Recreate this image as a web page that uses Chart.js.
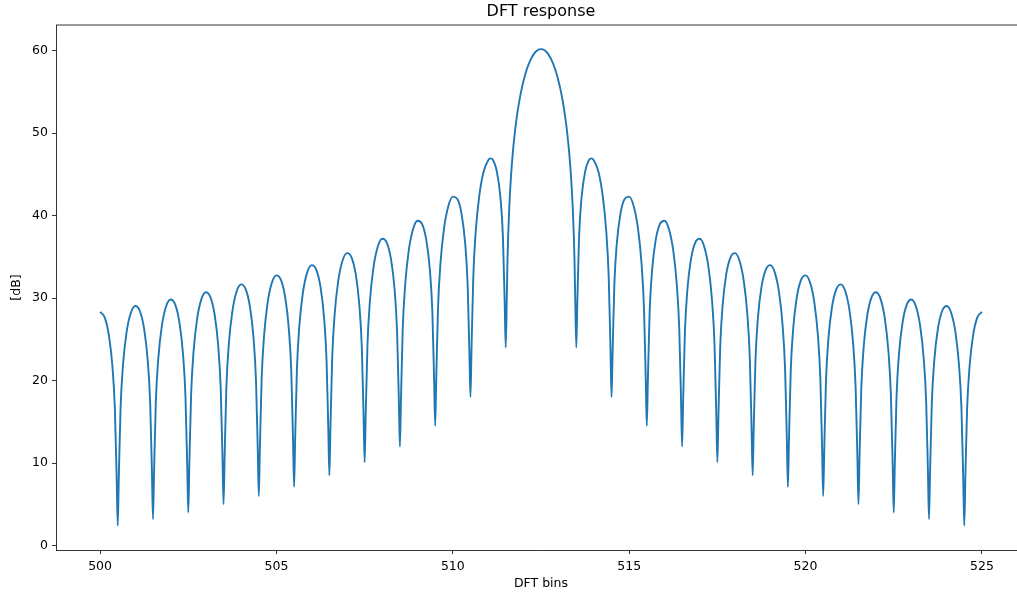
<!DOCTYPE html>
<html>
<head>
<meta charset="utf-8">
<title>DFT response</title>
<script src="https://cdn.jsdelivr.net/npm/chart.js@4.4.1/dist/chart.umd.min.js"></script>
<style>
  html, body { margin: 0; padding: 0; background: #fff; overflow: hidden; width: 1017px; height: 595px; }
  canvas { display: block; }
</style>
</head>
<body>
<canvas id="dft" width="1026" height="595"></canvas>
<script>
// DFT bin positions (x) and magnitude in dB (y), one lobe per line
const bins = [
    500, 500.13, 500.25, 500.35, 500.42, 500.47, 500.5,
    500.53, 500.58, 500.65, 500.75, 500.87, 501, 501.13, 501.25, 501.35, 501.42, 501.47, 501.5,
    501.53, 501.58, 501.65, 501.75, 501.87, 502, 502.13, 502.25, 502.35, 502.42, 502.47, 502.5,
    502.53, 502.58, 502.65, 502.75, 502.87, 503, 503.13, 503.25, 503.35, 503.42, 503.47, 503.5,
    503.53, 503.58, 503.65, 503.75, 503.87, 504, 504.13, 504.25, 504.35, 504.42, 504.47, 504.5,
    504.53, 504.58, 504.65, 504.75, 504.87, 505, 505.13, 505.25, 505.35, 505.42, 505.47, 505.5,
    505.53, 505.58, 505.65, 505.75, 505.87, 506, 506.13, 506.25, 506.35, 506.42, 506.47, 506.5,
    506.53, 506.58, 506.65, 506.75, 506.87, 507, 507.13, 507.25, 507.35, 507.42, 507.47, 507.5,
    507.53, 507.58, 507.65, 507.75, 507.87, 508, 508.13, 508.25, 508.35, 508.42, 508.47, 508.5,
    508.53, 508.58, 508.65, 508.75, 508.87, 509, 509.13, 509.25, 509.35, 509.42, 509.47, 509.5,
    509.53, 509.58, 509.65, 509.75, 509.87, 510, 510.13, 510.25, 510.35, 510.42, 510.47, 510.5,
    510.53, 510.58, 510.65, 510.75, 510.87, 511, 511.07, 511.13, 511.25, 511.35, 511.42, 511.47, 511.5,
    511.53, 511.55, 511.57, 511.6, 511.65, 511.7, 511.75, 511.8, 511.85, 511.9, 511.95, 512, 512.1, 512.2, 512.3, 512.4, 512.5,
    512.6, 512.7, 512.8, 512.9, 513, 513.05, 513.1, 513.15, 513.2, 513.25, 513.3, 513.35, 513.4, 513.43, 513.45, 513.47, 513.5,
    513.53, 513.58, 513.65, 513.75, 513.87, 513.93, 514, 514.13, 514.25, 514.35, 514.42, 514.47, 514.5,
    514.53, 514.58, 514.65, 514.75, 514.87, 515, 515.13, 515.25, 515.35, 515.42, 515.47, 515.5,
    515.53, 515.58, 515.65, 515.75, 515.87, 516, 516.13, 516.25, 516.35, 516.42, 516.47, 516.5,
    516.53, 516.58, 516.65, 516.75, 516.87, 517, 517.13, 517.25, 517.35, 517.42, 517.47, 517.5,
    517.53, 517.58, 517.65, 517.75, 517.87, 518, 518.13, 518.25, 518.35, 518.42, 518.47, 518.5,
    518.53, 518.58, 518.65, 518.75, 518.87, 519, 519.13, 519.25, 519.35, 519.42, 519.47, 519.5,
    519.53, 519.58, 519.65, 519.75, 519.87, 520, 520.13, 520.25, 520.35, 520.42, 520.47, 520.5,
    520.53, 520.58, 520.65, 520.75, 520.87, 521, 521.13, 521.25, 521.35, 521.42, 521.47, 521.5,
    521.53, 521.58, 521.65, 521.75, 521.87, 522, 522.13, 522.25, 522.35, 522.42, 522.47, 522.5,
    522.53, 522.58, 522.65, 522.75, 522.87, 523, 523.13, 523.25, 523.35, 523.42, 523.47, 523.5,
    523.53, 523.58, 523.65, 523.75, 523.87, 524, 524.13, 524.25, 524.35, 524.42, 524.47, 524.5,
    524.53, 524.58, 524.65, 524.75, 524.87, 525
];

const dB = [
    28.32, 27.67, 25.48, 21.70, 16.52, 8.12, 2.4,
    8.15, 16.63, 21.92, 25.84, 28.20, 29.04, 28.40, 26.22, 22.44, 17.27, 8.87, 3.2,
    8.91, 17.39, 22.68, 26.61, 28.98, 29.83, 29.20, 27.03, 23.26, 18.09, 9.69, 4.0,
    9.74, 18.23, 23.52, 27.46, 29.84, 30.70, 30.08, 27.92, 24.16, 18.99, 10.60, 5.0,
    10.66, 19.15, 24.45, 28.40, 30.80, 31.67, 31.06, 28.92, 25.17, 20.01, 11.62, 6.0,
    11.69, 20.18, 25.49, 29.46, 31.87, 32.76, 32.17, 30.04, 26.31, 21.16, 12.77, 7.1,
    12.84, 21.35, 26.67, 30.66, 33.09, 34.00, 33.43, 31.32, 27.61, 22.47, 14.10, 8.5,
    14.18, 22.70, 28.04, 32.04, 34.50, 35.45, 34.92, 32.84, 29.14, 24.02, 15.66, 10.1,
    15.75, 24.29, 29.65, 33.70, 36.20, 37.19, 36.70, 34.66, 31.01, 25.91, 17.57, 12.0,
    17.68, 26.25, 31.65, 35.75, 38.32, 39.38, 38.96, 36.99, 33.39, 28.33, 20.02, 14.5,
    20.14, 28.75, 34.22, 38.42, 41.10, 42.30, 42.01, 40.16, 36.66, 31.67, 23.40, 18.0,
    23.8, 32.5, 38.1, 42.4, 45.3, 46.7, 46.94, 46.8, 45.3, 42.2, 37.5, 29.5, 24.0,
    29.99, 34.6, 37.66, 40.97, 44.81, 47.58, 49.75, 51.51, 53.00, 54.26, 55.34, 56.28, 57.78, 58.87, 59.62, 60.06, 60.2,
    60.06, 59.62, 58.87, 57.78, 56.28, 55.34, 54.26, 53.00, 51.51, 49.75, 47.58, 44.81, 40.97, 37.66, 34.6, 29.99, 24.0,
    29.5, 37.5, 42.2, 45.3, 46.8, 46.94, 46.7, 45.3, 42.4, 38.1, 32.5, 23.8, 18.0,
    23.40, 31.67, 36.66, 40.16, 42.01, 42.30, 41.10, 38.42, 34.22, 28.75, 20.14, 14.5,
    20.02, 28.33, 33.39, 36.99, 38.96, 39.38, 38.32, 35.75, 31.65, 26.25, 17.68, 12.0,
    17.57, 25.91, 31.01, 34.66, 36.70, 37.19, 36.20, 33.70, 29.65, 24.29, 15.75, 10.1,
    15.66, 24.02, 29.14, 32.84, 34.92, 35.45, 34.50, 32.04, 28.04, 22.70, 14.18, 8.5,
    14.10, 22.47, 27.61, 31.32, 33.43, 34.00, 33.09, 30.66, 26.67, 21.35, 12.84, 7.1,
    12.77, 21.16, 26.31, 30.04, 32.17, 32.76, 31.87, 29.46, 25.49, 20.18, 11.69, 6.0,
    11.62, 20.01, 25.17, 28.92, 31.06, 31.67, 30.80, 28.40, 24.45, 19.15, 10.66, 5.0,
    10.60, 18.99, 24.16, 27.92, 30.08, 30.70, 29.84, 27.46, 23.52, 18.23, 9.74, 4.0,
    9.69, 18.09, 23.26, 27.03, 29.20, 29.83, 28.98, 26.61, 22.68, 17.39, 8.91, 3.2,
    8.87, 17.27, 22.44, 26.22, 28.40, 29.04, 28.20, 25.84, 21.92, 16.63, 8.15, 2.4,
    8.12, 16.52, 21.70, 25.48, 27.67, 28.32
];

const xTicks = [500, 505, 510, 515, 520, 525];
const yTicks = [0, 10, 20, 30, 40, 50, 60];

const FONT = "'DejaVu Sans', 'Liberation Sans', sans-serif";
const tickFont = { family: FONT, size: 12.5 };

// matplotlib draws a top spine too
const topSpine = {
    id: 'topSpine',
    afterDraw(chart) {
        const { ctx, chartArea } = chart;
        ctx.save();
        ctx.strokeStyle = '#000';
        ctx.lineWidth = 0.8;
        ctx.beginPath();
        ctx.moveTo(chartArea.left, chartArea.top);
        ctx.lineTo(chartArea.right, chartArea.top);
        ctx.stroke();
        ctx.restore();
    }
};

const points = bins.map((b, i) => ({ x: b, y: dB[i] }));

new Chart(document.getElementById('dft').getContext('2d'), {
    type: 'line',
    data: {
        datasets: [{
            data: points,
            borderColor: '#1f77b4',
            borderWidth: 1.9,
            pointRadius: 0,
            fill: false,
            cubicInterpolationMode: 'monotone'
        }]
    },
    options: {
        responsive: false,
        animation: false,
        layout: { padding: 0 },
        plugins: {
            legend: { display: false },
            tooltip: { enabled: false },
            title: {
                display: true,
                text: 'DFT response',
                fullSize: false,
                color: '#000',
                font: { family: FONT, size: 16, weight: 'normal' },
                padding: { top: 2.5, bottom: 3.3 }
            }
        },
        scales: {
            x: {
                type: 'linear',
                min: 498.75,
                max: 526.25,
                afterBuildTicks: s => { s.ticks = xTicks.map(v => ({ value: v })); },
                afterFit: s => { s.height = 45; },
                grid: { display: true, drawOnChartArea: false, drawTicks: true, tickLength: 4, color: '#000', lineWidth: 0.8 },
                border: { display: true, color: '#000', width: 0.8 },
                ticks: { font: tickFont, color: '#000', padding: 5, maxRotation: 0, autoSkip: false },
                title: { display: true, text: 'DFT bins', color: '#000', font: tickFont, padding: { top: 0, bottom: 4 } }
            },
            y: {
                type: 'linear',
                min: -0.55,
                max: 63.12,
                afterBuildTicks: s => { s.ticks = yTicks.map(v => ({ value: v })); },
                afterFit: s => { s.width = 56; },
                grid: { display: true, drawOnChartArea: false, drawTicks: true, tickLength: 4, color: '#000', lineWidth: 0.8 },
                border: { display: true, color: '#000', width: 0.8 },
                ticks: { font: tickFont, color: '#000', padding: 4, autoSkip: false },
                title: { display: true, text: '[dB]', color: '#000', font: tickFont, padding: { top: 9.5, bottom: 0 } }
            }
        }
    },
    plugins: [topSpine]
});
</script>
</body>
</html>
